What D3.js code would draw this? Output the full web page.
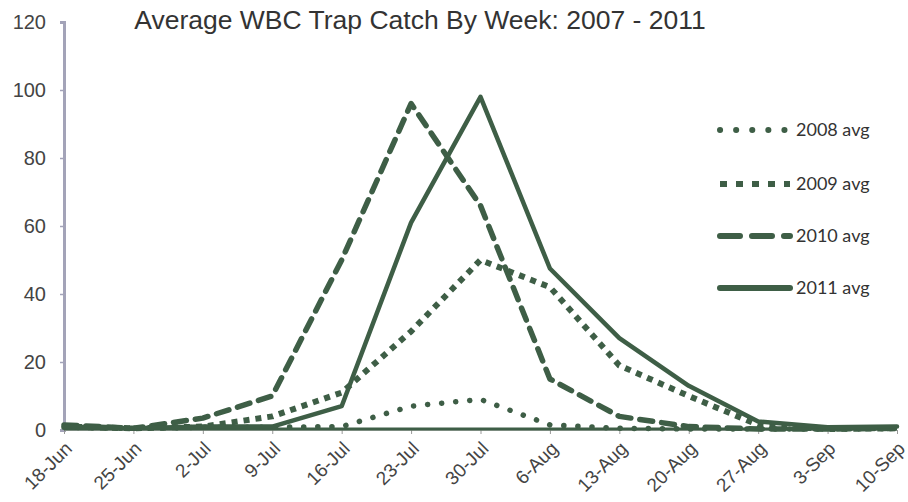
<!DOCTYPE html>
<html>
<head>
<meta charset="utf-8">
<script src="https://cdn.jsdelivr.net/npm/d3@7"></script>
<style>
  body { margin: 0; background: #fff; }
</style>
</head>
<body>
<div id="chart-area"></div>
<script>
var weeks = ["18-Jun", "25-Jun", "2-Jul", "9-Jul", "16-Jul", "23-Jul", "30-Jul",
  "6-Aug", "13-Aug", "20-Aug", "27-Aug", "3-Sep", "10-Sep"]
var yTicks = [0, 20, 40, 60, 80, 100, 120]

// 2007 is drawn but has no legend entry in the source
var avg2007 = [0.3, 0.3, 0.3, 0.3, 0.3, 0.3, 0.3, 0.3, 0.3, 0.3, 0.3, 0.3, 0.3]
var avg2008 = [0.8, 0.5, 0.8, 0.8, 1, 7, 9, 1.5, 0.5, 0.3, 0.3, 0.3, 0.5]
var avg2009 = [1, 0.5, 1, 4, 11, 29, 50, 42, 19, 10, 1.5, 0.3, 0.5]
var avg2010 = [1.5, 0.5, 3.5, 10, 50, 96, 66, 15, 4, 1, 0.3, 0.3, 0.5]
var avg2011 = [1, 0.5, 1, 1, 7, 61, 98, 47.5, 27, 13, 2.5, 0.8, 1]

var green = '#3e5e46'

var margin = { left: 64, right: 11, top: 22, bottom: 72 }
var chartWidth = 908
var chartHeight = 502

var svg = d3.select("#chart-area")
  .append("svg")
  .attr("width", chartWidth)
  .attr("height", chartHeight)

var x = d3.scalePoint()
  .domain(weeks)
  .range([margin.left, chartWidth - margin.right])

var y = d3.scaleLinear()
  .domain([0, 120])
  .range([chartHeight - margin.bottom, margin.top])

// title
svg.append("text")
  .attr("x", 420)
  .attr("y", 29)
  .attr("text-anchor", "middle")
  .style("font-family", "Liberation Sans, Arial, sans-serif")
  .style("font-size", "26.5px")
  .style("fill", "#333")
  .text("Average WBC Trap Catch By Week: 2007 - 2011")

// y axis
var yAxis = svg.append("g")
  .attr("transform", "translate(" + margin.left + ",0)")
  .call(d3.axisLeft(y).tickValues(yTicks).tickSize(4).tickPadding(14))
yAxis.select(".domain").attr("stroke", "#a3a3b8").attr("stroke-width", 3)
yAxis.selectAll(".tick line").attr("stroke", "#a3a3b8").attr("stroke-width", 1.5)
yAxis.selectAll(".tick text")
  .attr("font-size", 20)
  .style("font-family", "Liberation Sans, Arial, sans-serif")
  .style("font-size", "20px")
  .style("fill", "#444")

// x axis
var xAxis = svg.append("g")
  .attr("transform", "translate(0," + y(0) + ")")
  .call(d3.axisBottom(x).tickSize(4).tickSizeOuter(0))
xAxis.select(".domain").attr("stroke", "#b8b8b8").attr("stroke-width", 1)
xAxis.selectAll(".tick line").attr("stroke", "#999")
xAxis.selectAll(".tick text")
  .style("font-family", "Liberation Sans, Arial, sans-serif")
  .style("font-size", "19px")
  .style("fill", "#444")
  .attr("text-anchor", "end")
  .attr("x", 0)
  .attr("y", 0)
  .attr("dy", "0.35em")
  .attr("transform", "translate(4,15) rotate(-45)")

var series = [
  { name: "2007 avg", values: avg2007, width: 3, dash: null, cap: "butt", legend: false },
  { name: "2008 avg", values: avg2008, width: 5.5, dash: "0.1,14", cap: "round", legend: true },
  { name: "2009 avg", values: avg2009, width: 6, dash: "6,6", cap: "butt", legend: true },
  { name: "2010 avg", values: avg2010, width: 5.5, dash: "13,9", cap: "round", legend: true },
  { name: "2011 avg", values: avg2011, width: 4.5, dash: null, cap: "round", legend: true }
]

var line = d3.line()
  .x(function(d, i) { return x(weeks[i]); })
  .y(function(d) { return y(d); })

svg.selectAll("path.series")
  .data(series)
  .enter()
  .append("path")
  .attr("class", "series")
  .attr("d", function(d) { return line(d.values); })
  .attr("fill", "none")
  .attr("stroke", green)
  .attr("stroke-width", function(d) { return d.width; })
  .attr("stroke-linecap", function(d) { return d.cap; })
  .attr("stroke-linejoin", "round")
  .attr("stroke-dasharray", function(d) { return d.dash; })

// legend
var legendRows = [130, 184, 236, 288]
var legendDash = { "2008 avg": "0.1,16", "2009 avg": "7,9", "2010 avg": "20,12", "2011 avg": null }
var legend = svg.selectAll("g.legend")
  .data(series.filter(function(d) { return d.legend; }))
  .enter()
  .append("g")
  .attr("class", "legend")
  .attr("transform", function(d, i) { return "translate(0," + legendRows[i] + ")"; })

legend.append("line")
  .attr("x1", 720)
  .attr("x2", 790)
  .attr("stroke", green)
  .attr("stroke-width", 6)
  .attr("stroke-linecap", function(d) { return d.cap; })
  .attr("stroke-dasharray", function(d) { return legendDash[d.name]; })

legend.append("text")
  .attr("x", 796)
  .attr("y", 6)
  .style("font-family", "Lato, 'Open Sans', sans-serif")
  .style("font-size", "18px")
  .style("fill", "#333")
  .text(function(d) { return d.name; })
</script>
</body>
</html>
